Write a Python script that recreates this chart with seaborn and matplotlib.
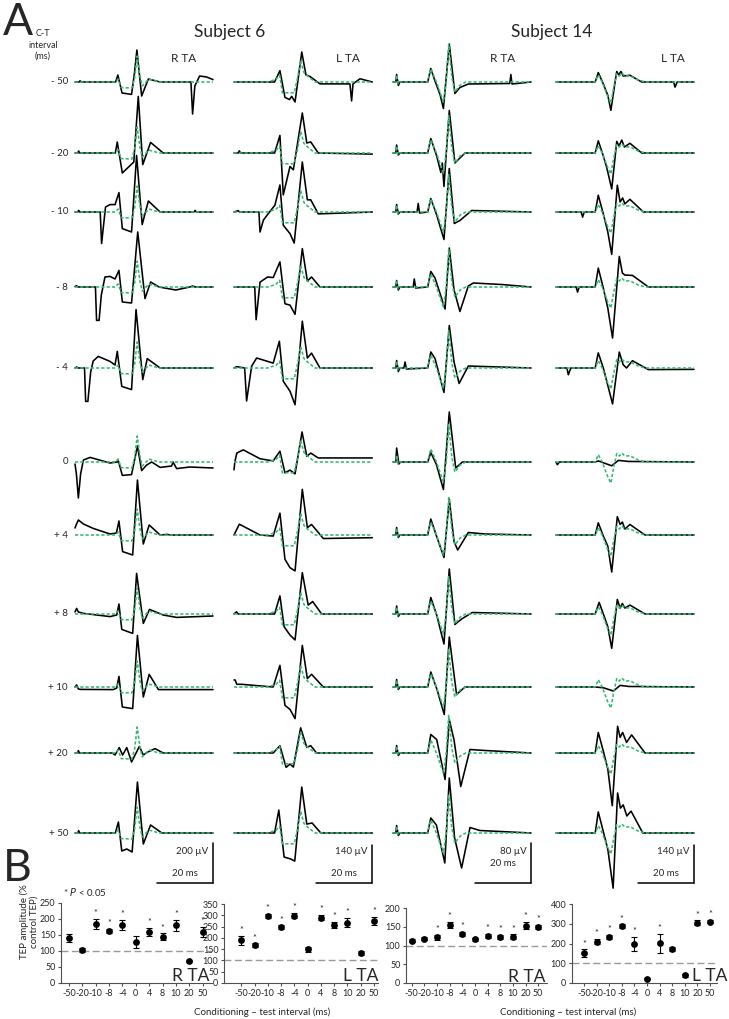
import matplotlib
matplotlib.use("Agg")
import matplotlib.pyplot as plt
import seaborn as sns
import pandas as pd
import numpy as np

# ---------------- data ----------------
ROWS = ['-50', '-20', '-10', '-8', '-4', '0', '+4', '+8', '+10', '+20', '+50']
ROW_LABELS = ['- 50', '- 20', '- 10', '- 8', '- 4', '0', '+ 4', '+ 8', '+ 10', '+ 20', '+ 50']
SUBJECTS = ['Subject 6', 'Subject 14']
MUSCLES = ['R TA', 'L TA', 'R TA', 'L TA']
SCALE_UV = [200, 140, 80, 140]

# waveforms: (time ms, amplitude uV)
# control TEP (green dashed), one per column
CTRL_S6_R = [(0, 0), (14.4, 0), (15.4, 15), (16.5, -28), (20.3, -30), (21.3, 20), (22.2, 130), (23.2, 30),
             (24, -20), (26.4, 15), (30, 0), (49.3, 0)]
CTRL_S6_L = [(0, 0), (12, 0), (15, 10), (16.3, 25), (17.3, -40), (21.5, -40), (22.8, 20), (23.8, 80), (25, 35),
             (26.5, 20), (29, 0), (49.4, 0)]
CTRL_S14_R = [(0, 0), (1, 0), (1.3, 14), (1.8, -4), (2.4, 0), (12.3, 0), (13.5, 26), (15.5, 0), (18, -40), (19, 0),
              (19.9, 75), (21, 10), (22.1, -20), (24, -6), (26, 0), (49.3, 0)]
CTRL_S14_L = [(0, 0), (14, 0), (15.1, 27), (16.5, 0), (18.5, -55), (19.6, -78), (20.6, -20), (21.7, 31),
              (22.6, 22), (23.5, 33), (24.6, 22), (26.4, 23), (29.4, 7), (32, 0), (49.3, 0)]

# conditioned TEP (black), per C-T interval
S6_R = {
    '-50': [(0, 0), (1.5, 0), (1.8, 6), (2.2, 0), (14.5, 0), (15.3, 35), (16.8, -55), (20.2, -62), (21.2, 40),
            (22.1, 160), (23.8, -70), (26.2, 15), (30.4, 0), (41.4, 0), (42, -160), (42.8, -20), (44.5, 30),
            (47, 25), (49.3, 12)],
    '-20': [(0, 0), (1, 0), (1.3, 10), (1.7, 0), (14.4, 0), (15.1, 55), (16.9, -100), (21, -45), (22.6, 283),
            (24.2, -58), (27, 53), (31.5, 0), (49.3, 0)],
    '-10': [(0, 0), (1, 0), (1.3, 8), (1.7, 0), (9, 0), (9.5, -158), (10.4, -40), (10.9, 25), (12.5, 37),
            (14.3, 37), (15.7, 97), (16.9, -83), (20.2, -100), (22, 283), (24, -63), (26.2, 55), (30.4, 0),
            (42.5, 0), (42.9, 8), (43.3, 0), (49.3, 0)],
    '-8': [(0, 2), (0.5, 6), (1.2, 0), (7.3, 0), (7.7, -167), (8.6, -167), (9.4, -40), (10.7, 50), (12.5, 53),
           (14.3, 40), (15.7, 83), (16.9, -75), (20.2, -80), (22.4, 275), (25, -58), (27, 25), (30, 0),
           (36, -15), (41, 0), (42, 5), (43, 0), (49.3, 0)],
    '-4': [(0, 0), (0.6, 5), (1, 0), (3.4, 0), (3.8, -167), (4.6, -167), (5.6, -20), (6.5, 35), (8.3, 58),
           (12.5, 33), (14.3, 15), (15.1, 83), (16.7, -92), (20.2, -108), (21.8, 292), (24.2, -58), (25.8, 47),
           (30.4, 0), (49.3, 0)],
    '0': [(0, -10), (0.5, -60), (1.2, -180), (2, -60), (3, 10), (5.4, 23), (12.5, -5), (15.1, 0), (15.5, 5),
          (16.9, -67), (20.2, -63), (22.3, 80), (23.8, -43), (25.6, -15), (27.4, 0), (30.4, -27), (34.5, -20),
          (35, 0), (36.3, -33), (41, -25), (49.3, -30)],
    '+4': [(0, 35), (0.4, 50), (1.2, 75), (3, 55), (6.5, 33), (12.5, 5), (14.8, 10), (15.7, 70), (17, -83),
           (20.6, -100), (22.3, 275), (24.4, -45), (26.5, 50), (30.4, 0), (33, 3), (34, 0), (49.3, 0)],
    '+8': [(0, 10), (0.6, 28), (1.2, 10), (3, 3), (12.5, -13), (14.9, -5), (15.7, 50), (16.7, -77), (20.6, -97),
           (22, 203), (24.4, -47), (26.6, 23), (31.5, -5), (36.3, -17), (49.3, -10)],
    '+10': [(0, 0), (0.6, 10), (1.2, -10), (2, -12), (13.7, -13), (14.9, -5), (15.7, 53), (16.9, -100),
            (20.6, -108), (22.3, 258), (24.4, -50), (26.5, 63), (29.8, -13), (49.3, -13)],
    '+20': [(0, 0), (1, 0), (1.2, 12), (1.6, 0), (13.3, 0), (14.3, -10), (15.8, 27), (17, -10), (18.5, 27),
            (20.2, -45), (23, 33), (24.4, -10), (26, 5), (28.6, 22), (31.5, 0), (49.3, 0)],
    '+50': [(0, 0), (1, 0), (1.3, 12), (1.7, 0), (14.4, 0), (15.5, 55), (16.7, -90), (18.5, -80), (20.4, -95),
            (22.3, 255), (24.4, -55), (27, 40), (31, 0), (49.3, 0)],
}
S6_L = {
    '-50': [(0, 0), (14.5, 0), (16.4, 42), (18.2, -57), (19.8, -65), (20.6, -53), (21.8, -74), (24.2, 111),
            (25.7, 26), (27.2, 20), (30.7, -7), (41.4, -7), (42, -70), (42.5, -7), (45, 12), (49.4, 0)],
    '-20': [(0, 0), (1.5, 0), (1.9, 8), (2.3, 0), (14.5, 0), (16.4, 65), (17.6, -155), (20, -50), (21.2, -62),
            (24.4, 148), (26, 37), (27.4, 41), (30.1, 0), (49.4, -4)],
    '-10': [(0, 0), (1.5, 5), (2, 0), (8.9, 0), (9.3, -74), (10.5, -30), (12.3, -5), (14.6, 25), (16.4, 100),
            (17.6, -49), (20, -80), (21.5, -115), (24.4, 185), (26.2, 45), (27.4, 45), (30.1, -7), (49.4, 0)],
    '-8': [(0, 0), (7.4, 0), (7.9, -121), (9.3, 18), (12, 37), (14, 35), (16.4, 93), (18.2, -62), (20, -67),
           (21.8, -101), (24.4, 142), (26.2, 22), (27.7, 37), (30.7, 0), (49.4, 0)],
    '-4': [(0, 0), (1, 5), (3.8, 0), (4.5, -122), (6.3, 7), (8.1, 37), (14, 18), (16.2, 99), (17.6, -49),
           (20, -86), (21.8, -136), (24.4, 173), (26.2, 37), (27.7, 55), (30.7, 0), (49.4, 0)],
    '0': [(0, -29), (0.3, 0), (1, 33), (3.3, 45), (9.3, 12), (14, 4), (16.4, 40), (18.2, -40), (20, -30),
          (21.8, -44), (24.3, 111), (26, 21), (27.4, 33), (30.1, 15), (49.4, 15)],
    '+4': [(0, 0), (1.9, 40), (9.3, 0), (14, -4), (16.4, 81), (18.2, -90), (20, -121), (21.8, -133),
           (24.4, 169), (26.2, 27), (27.7, 39), (31.9, -13), (49.4, -10)],
    '+8': [(0, 0), (0.9, 8), (1.5, 0), (14.5, 0), (16.4, 67), (17.9, -47), (20, -78), (21.8, -96), (24.4, 153),
           (26.5, 33), (28.1, 46), (31.3, 0), (49.4, 0)],
    '+10': [(0, 26), (0.4, 26), (1, 10), (2.7, 10), (14, 0), (16.4, 80), (18.2, -68), (20, -83), (21.8, -117),
            (24.4, 154), (26.2, 31), (27.7, 47), (31.9, 0), (49.4, 0)],
    '+20': [(0, 0), (14, 0), (16.4, 27), (18.6, -53), (20, -41), (21.2, -52), (23.8, 93), (26, 21), (27.4, 27),
            (29.5, 0), (49.4, 0)],
    '+50': [(0, 0), (14.5, 0), (16, 85), (17.9, -89), (20.2, -96), (21.7, -104), (24.2, 170), (26, 33),
            (27.9, 37), (31, 0), (49.4, 0)],
}
S14_R = {
    '-50': [(0, 0), (1, 0), (1.3, 15), (1.9, -7), (2.5, 0), (12.4, 0), (13.5, 27), (15, 2), (16.8, -25),
            (18, -53), (20.1, 76), (22.1, -23), (23.9, -11), (26.9, -4), (41.7, -3), (42.1, 15), (42.5, -4),
            (49.3, 0)],
    '-20': [(0, 0), (1, 0), (1.3, 16), (1.9, -4), (2.5, 0), (12.4, 0), (13.5, 29), (15.6, -6), (17.1, -39),
            (17.6, -20), (18.2, -67), (20.1, 85), (22.1, -20), (25.7, 0), (49.3, 0)],
    '-10': [(0, 0), (1, 0), (1.3, 15), (1.9, -4), (2.5, 0), (8.6, 0), (9, 17), (9.5, -2), (12.4, 0), (13.5, 27),
            (15.6, -6), (18.2, -55), (20.1, 87), (21.9, -23), (23.9, -17), (28.1, 3), (49.3, 0)],
    '-8': [(0, 0), (1, 0), (1.3, 13), (1.9, -6), (2.5, 0), (7.2, 0), (7.6, 16), (8.1, -2), (12.4, 0), (13.5, 31),
           (15, 18), (18.6, -44), (20.1, 78), (21.8, -6), (23.9, -49), (26.9, 2), (28.7, 8), (38.8, 5),
           (49.3, 0)],
    '-4': [(0, 0), (1, 0), (1.3, 15), (1.9, -7), (2.5, 0), (3.9, 0), (4.3, 12), (4.8, -2), (12.4, 0), (13.5, 32),
           (15, 19), (18.2, -49), (20.1, 85), (21.8, 12), (23.6, -31), (26.9, 4), (49.3, 0)],
    '0': [(0, 0), (1, 0), (1.3, 28), (2.1, -4), (2.7, 0), (12.4, 0), (13.5, 19), (15.5, -5), (18, -55),
          (20.1, 100), (22.4, -12), (24.8, 0), (49.3, 0)],
    '+4': [(0, 0), (1, 0), (1.3, 15), (1.9, -5), (2.5, 0), (12.4, 0), (13.5, 32), (15.6, -3), (18.2, -45),
           (20.1, 72), (21.8, -13), (23.1, -30), (26.9, 5), (32.9, 2), (49.3, 0)],
    '+8': [(0, 0), (1, 0), (1.3, 16), (1.9, -5), (2.5, 0), (12.4, 0), (13.5, 33), (15.6, -2), (18.2, -60),
           (20.1, 90), (22.1, -21), (24.5, -10), (28.3, 3), (49.3, 0)],
    '+10': [(0, 0), (1, 0), (1.3, 15), (1.9, -5), (2.5, 0), (12.4, 0), (13.5, 30), (15.6, -3), (18.3, -55),
            (20.1, 100), (22.7, -15), (25.7, 0), (49.3, 0)],
    '+20': [(0, 0), (1, 0), (1.3, 15), (1.9, -5), (2.5, 0), (12.4, 0), (13.5, 37), (15.6, 27), (18.6, -53),
            (20.1, 67), (21.8, 26), (24.2, -67), (27.5, 7), (32.9, 5), (49.3, 0)],
    '+50': [(0, 0), (1, 0), (1.3, 15), (1.9, -5), (2.5, 0), (12.4, 0), (13.5, 30), (15.5, 16), (18.5, -60),
            (20.1, 110), (22, -10), (24.5, -70), (27.5, 11), (31, 5), (49.3, 0)],
}
S14_L = {
    '-50': [(0, 0), (14, 0), (15.1, 35), (16.9, -7), (18.5, -49), (19.6, -105), (21.1, 0), (21.7, 39),
            (22.4, 26), (23.2, 39), (24, 22), (26.4, 25), (30.6, 0), (42, 0), (42.5, -19), (43.3, 0), (49.3, 0)],
    '-20': [(0, 0), (14, 0), (15.1, 45), (16.9, -11), (18.1, -53), (19.9, -133), (21.7, 43), (22.5, 26),
            (23.5, 48), (24.4, 22), (26.4, 36), (30.6, 0), (49.3, 0)],
    '-10': [(0, 0), (9, 0), (9.5, -19), (10.1, 0), (14, 0), (15.1, 62), (16.9, -7), (18.5, -74), (19.9, -157),
            (21.9, 99), (22.9, 37), (23.8, 52), (24.6, 30), (26.4, 47), (31.2, 0), (49.3, 0)],
    '-8': [(0, 0), (7.2, 0), (7.7, -19), (8.3, 0), (14, 0), (15.1, 70), (16.9, -4), (18.5, -78), (20.2, -189),
           (22.6, 113), (23.7, 52), (24.6, 44), (27.3, 43), (33, 0), (49.3, 0)],
    '-4': [(0, 0), (3.9, 0), (4.4, -25), (5.3, 0), (14, 0), (15.1, 56), (16.9, 0), (20.2, -133), (22.6, 59),
           (24, 12), (25.2, 0), (27.3, 27), (33, -6), (49.3, -5)],
    '0': [(0, 0), (0.5, -10), (1.2, 0), (14, 0), (15.1, 4), (17.5, -5), (19.9, -14), (22.3, 6), (26, 2),
          (49.3, 0)],
    '+4': [(0, 0), (14, 0), (15.1, 45), (16.9, -4), (18.5, -41), (19.9, -137), (21.9, 68), (22.9, 39),
           (23.7, 48), (24.6, 22), (26.4, 39), (31.8, 0), (49.3, 0)],
    '+8': [(0, 0), (14, 0), (15.4, 43), (17.3, -11), (18.5, -47), (19.9, -127), (21.9, 54), (22.9, 22),
           (23.7, 39), (24.6, 22), (26.4, 33), (31.8, 0), (49.3, 0)],
    '+10': [(0, 0), (14, 0), (17, -3), (20.5, -15), (22.9, 6), (26, 2), (49.3, 0)],
    '+20': [(0, 0), (14, 0), (15.1, 76), (16.9, 7), (18.5, -59), (20.1, -195), (22, 99), (22.9, 58), (23.8, 76),
            (25.2, 39), (27, 67), (31.8, 0), (49.3, 0)],
    '+50': [(0, 0), (14, 0), (15.1, 78), (16.9, 5), (18.5, -60), (20.4, -204), (22, 148), (23, 92), (24, 104),
            (25.3, 63), (26.8, 81), (31, 0), (49.3, 0)],
}

# panel B: TEP amplitude (% control TEP), mean, error, significance
INTERVALS = ['-50', '-20', '-10', '-8', '-4', '0', '4', '8', '10', '20', '50']
S6_R_MEAN = [140, 103, 185, 163, 182, 128, 160, 145, 180, 68, 160]
S6_R_ERR = [13, 5, 15, 6, 15, 20, 13, 10, 18, 3, 15]
S6_R_SIG = [0, 0, 1, 1, 1, 0, 1, 1, 1, 0, 1]
S6_L_MEAN = [190, 168, 298, 247, 298, 149, 290, 257, 268, 134, 275]
S6_L_ERR = [20, 8, 8, 8, 12, 12, 12, 15, 20, 8, 18]
S6_L_SIG = [1, 1, 1, 1, 1, 0, 1, 1, 1, 0, 1]
S14_R_MEAN = [113, 118, 122, 156, 131, 117, 126, 123, 124, 153, 150]
S14_R_ERR = [4, 4, 6, 8, 6, 4, 6, 5, 6, 10, 6]
S14_R_SIG = [0, 0, 1, 1, 1, 0, 1, 1, 1, 1, 1]
S14_L_MEAN = [151, 210, 235, 289, 197, 22, 202, 173, 39, 306, 311]
S14_L_ERR = [20, 15, 10, 8, 35, 4, 48, 10, 8, 12, 8]
S14_L_SIG = [1, 1, 1, 1, 1, 0, 1, 0, 0, 1, 1]

# ---------------- style ----------------
sns.set_theme(style="white")
plt.rcParams['font.family'] = ['Lato', 'DejaVu Sans']
GREEN = '#35b872'
AXC = '#505050'

W, H = 729, 1019
fig = plt.figure(figsize=(W / 100, H / 100), dpi=100)
fig.patch.set_facecolor('white')


def px_axes(left, top, width, height):
    return fig.add_axes([left / W, 1 - (top + height) / H, width / W, height / H])


def ftext(x, y, s, **kw):
    return fig.text(x / W, 1 - y / H, s, **kw)


# ---------------- panel A ----------------
COL_X0 = [75, 234, 393, 556]
ROW_Y = [82, 153, 212, 287, 368, 462, 535, 614, 687, 753, 833]
UV_PER_PX = [5, 3.7, 2, 3.7]
MS_LABEL_DY = [10, 10, 20, 10]
columns = [(S6_R, CTRL_S6_R), (S6_L, CTRL_S6_L), (S14_R, CTRL_S14_R), (S14_L, CTRL_S14_L)]

for c, (traces, ctrl) in enumerate(columns):
    k = UV_PER_PX[c]
    for r, row in enumerate(ROWS):
        ax = px_axes(COL_X0[c], ROW_Y[r] - 70, 140, 140)
        ax.set_xlim(0, 50)
        ax.set_ylim(-70 * k, 70 * k)
        bt, bv = zip(*traces[row])
        gt, gv = zip(*ctrl)
        sns.lineplot(x=list(bt), y=list(bv), ax=ax, color='black', linewidth=1.15,
                     estimator=None, sort=False, clip_on=False, zorder=2)
        sns.lineplot(x=list(gt), y=list(gv), ax=ax, color=GREEN, linewidth=1.15,
                     linestyle=(0, (2, 1.3)), estimator=None, sort=False, clip_on=False, zorder=3)
        ax.set_axis_off()
        if r == len(ROWS) - 1:
            # scale bars
            y0 = -50 * k
            ax.plot([49.2, 49.2], [y0, y0 + SCALE_UV[c]], color='black', lw=1.1, clip_on=False)
            ax.plot([29.3, 49.2], [y0, y0], color='black', lw=1.1, clip_on=False)
            ax.text(47.6, y0 + 31 * k, f'{SCALE_UV[c]} µV', ha='right', va='center', fontsize=7)
            ax.text(39.3, y0 + MS_LABEL_DY[c] * k, '20 ms', ha='center', va='center', fontsize=7)

for r, lab in enumerate(ROW_LABELS):
    ftext(68, ROW_Y[r], lab, ha='right', va='center', fontsize=7)

ftext(3, 35, 'A', ha='left', va='baseline', fontsize=32)
ftext(3, 881, 'B', ha='left', va='baseline', fontsize=32)
ftext(43, 45, 'C-T\ninterval\n(ms)', ha='center', va='center', fontsize=6.5, linespacing=1.35)
ftext(230, 32, SUBJECTS[0], ha='center', va='center', fontsize=12.5)
ftext(552, 32, SUBJECTS[1], ha='center', va='center', fontsize=12.5)
for x, m in zip([184, 348, 503, 673], MUSCLES):
    ftext(x, 58, m, ha='center', va='center', fontsize=8.5)

# ---------------- panel B ----------------
B_DATA = [(S6_R_MEAN, S6_R_ERR, S6_R_SIG), (S6_L_MEAN, S6_L_ERR, S6_L_SIG),
          (S14_R_MEAN, S14_R_ERR, S14_R_SIG), (S14_L_MEAN, S14_L_ERR, S14_L_SIG)]
B_BOX = [(61, 903, 151), (224, 904, 154), (406, 908, 141), (572, 904, 145)]
B_XLIM = [(-0.6, 10.7), (-1.3, 10.3), (-0.45, 10.7), (-0.95, 10.55)]
B_YMAX = [250, 350, 200, 400]
B_YSTEP = [50, 50, 50, 100]
B_LABEL_RIGHT = [209, 378, 545, 727]

for i, (mean, err, sig) in enumerate(B_DATA):
    left, top, width = B_BOX[i]
    ax = px_axes(left, top, width, 983 - top)
    df = pd.DataFrame({'pos': np.arange(len(INTERVALS)), 'mean': mean, 'err': err, 'sig': sig})
    ax.axhline(100, color='#9a9a9a', lw=1.0, ls=(0, (5, 2.5)), zorder=1)
    ax.errorbar(df['pos'], df['mean'], yerr=df['err'], fmt='none', ecolor='black',
                elinewidth=0.8, capsize=2, capthick=0.8, zorder=2)
    sns.scatterplot(data=df, x='pos', y='mean', ax=ax, color='black', s=24, linewidth=0, zorder=3)
    for _, row in df[df['sig'] == 1].iterrows():
        ax.annotate('*', (row['pos'], row['mean'] + row['err']), xytext=(0, 0.5),
                    textcoords='offset points', ha='center', va='bottom', fontsize=6.5)
    ax.set_xlim(*B_XLIM[i])
    ax.set_ylim(0, B_YMAX[i])
    ax.set_yticks(np.arange(0, B_YMAX[i] + 1, B_YSTEP[i]))
    ax.set_xticks(df['pos'])
    ax.set_xticklabels(INTERVALS)
    ax.set_xlabel('')
    ax.set_ylabel('')
    sns.despine(ax=ax)
    for s in ['left', 'bottom']:
        ax.spines[s].set_color(AXC)
        ax.spines[s].set_linewidth(0.8)
    ax.tick_params(axis='both', labelsize=6.5, length=2.5, width=0.8, color=AXC, pad=1.5,
                   bottom=True, left=True)
    ax.patch.set_alpha(0)
    ax.text((B_LABEL_RIGHT[i] - left) / width, 0.02, MUSCLES[i], transform=ax.transAxes,
            ha='right', va='baseline', fontsize=12.5)

ftext(29, 922, 'TEP amplitude (%\ncontrol TEP)', rotation=90, ha='center', va='center',
      fontsize=7, linespacing=1.15)
ftext(63, 892, r'* $P$ < 0.05', ha='left', va='center', fontsize=7)
ftext(262, 1012, 'Conditioning – test interval (ms)', ha='center', va='center', fontsize=7)
ftext(568, 1012, 'Conditioning – test interval (ms)', ha='center', va='center', fontsize=7)

fig.savefig('out.png', dpi=100)
